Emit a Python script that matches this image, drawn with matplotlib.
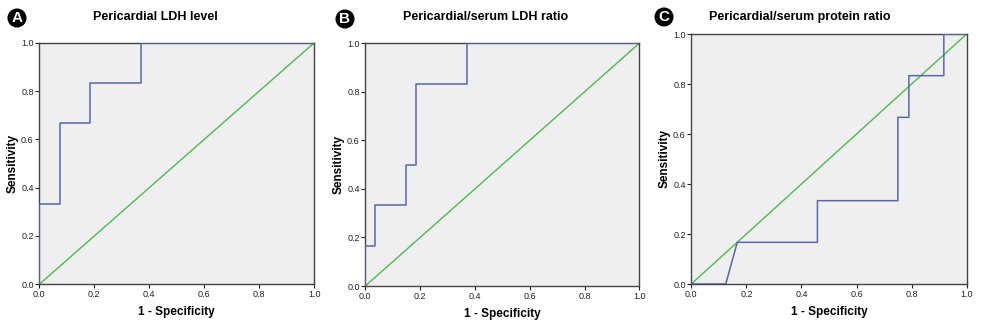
import numpy as np
import matplotlib.pyplot as plt

# ROC step curves (1 - specificity, sensitivity)
fpr_a = [0, 0, 2/27, 2/27, 5/27, 5/27, 10/27, 10/27, 1]
tpr_a = [0, 1/3, 1/3, 2/3, 2/3, 5/6, 5/6, 1, 1]

fpr_b = [0, 0, 1/27, 1/27, 4/27, 4/27, 5/27, 5/27, 10/27, 10/27, 1]
tpr_b = [0, 1/6, 1/6, 1/3, 1/3, 1/2, 1/2, 5/6, 5/6, 1, 1]

fpr_c = [0, 0.125, 0.167, 0.458, 0.458, 0.75, 0.75, 0.79, 0.79, 0.917, 0.917, 1]
tpr_c = [0, 0, 1/6, 1/6, 1/3, 1/3, 2/3, 2/3, 5/6, 5/6, 1, 1]

titles = ['Pericardial LDH level', 'Pericardial/serum LDH ratio',
          'Pericardial/serum protein ratio']
letters = ['A', 'B', 'C']
ticks = [0.0, 0.2, 0.4, 0.6, 0.8, 1.0]

plt.rcParams['font.family'] = ['Liberation Sans', 'DejaVu Sans']

fig = plt.figure(figsize=(9.86, 3.23), dpi=100)

# axes boxes in pixels: left, top, right, bottom
boxes = [(39.3, 42.7, 314.3, 284.3), (365.3, 43.3, 639.3, 286.0),
         (691.3, 34.0, 966.7, 284.0)]
title_pos = [(155, 17), (486, 17), (800, 17)]
letter_pos = [(17, 18), (345, 19), (664, 17)]

W, H = 986, 323
data = [(fpr_a, tpr_a), (fpr_b, tpr_b), (fpr_c, tpr_c)]

for i in range(3):
    l, t, r, b = boxes[i]
    ax = fig.add_axes([l / W, 1 - b / H, (r - l) / W, (b - t) / H])
    ax.set_facecolor('#efefef')
    ax.plot([0, 1], [0, 1], color='#4cbb4c', lw=1.0, zorder=2)
    ax.plot(data[i][0], data[i][1], color='#5668b0', lw=1.1, zorder=3)
    ax.set_xlim(0, 1)
    ax.set_ylim(0, 1)
    ax.set_xticks(ticks)
    ax.set_yticks(ticks)
    ax.set_xticklabels(['%.1f' % v for v in ticks])
    ax.set_yticklabels(['%.1f' % v for v in ticks])
    ax.tick_params(labelsize=6.5, colors='#222222', length=3, width=0.8, pad=1)
    for s in ax.spines.values():
        s.set_color('#444444')
        s.set_linewidth(1.0)
    ax.set_xlabel('1 - Specificity', fontsize=8.5, fontweight='bold', labelpad=5)
    ax.set_ylabel('Sensitivity', fontsize=8.5, fontweight='bold', labelpad=2)

    tx, ty = title_pos[i]
    fig.text(tx / W, 1 - ty / H, titles[i], fontsize=9, fontweight='bold',
             ha='center', va='center')
    lx, ly = letter_pos[i]
    fig.text(lx / W, 1 - ly / H, letters[i], fontsize=11, fontweight='bold',
             color='white', ha='center', va='center',
             bbox=dict(boxstyle='circle,pad=0.12', fc='black', ec='black'))

fig.savefig('out.png', dpi=100)
